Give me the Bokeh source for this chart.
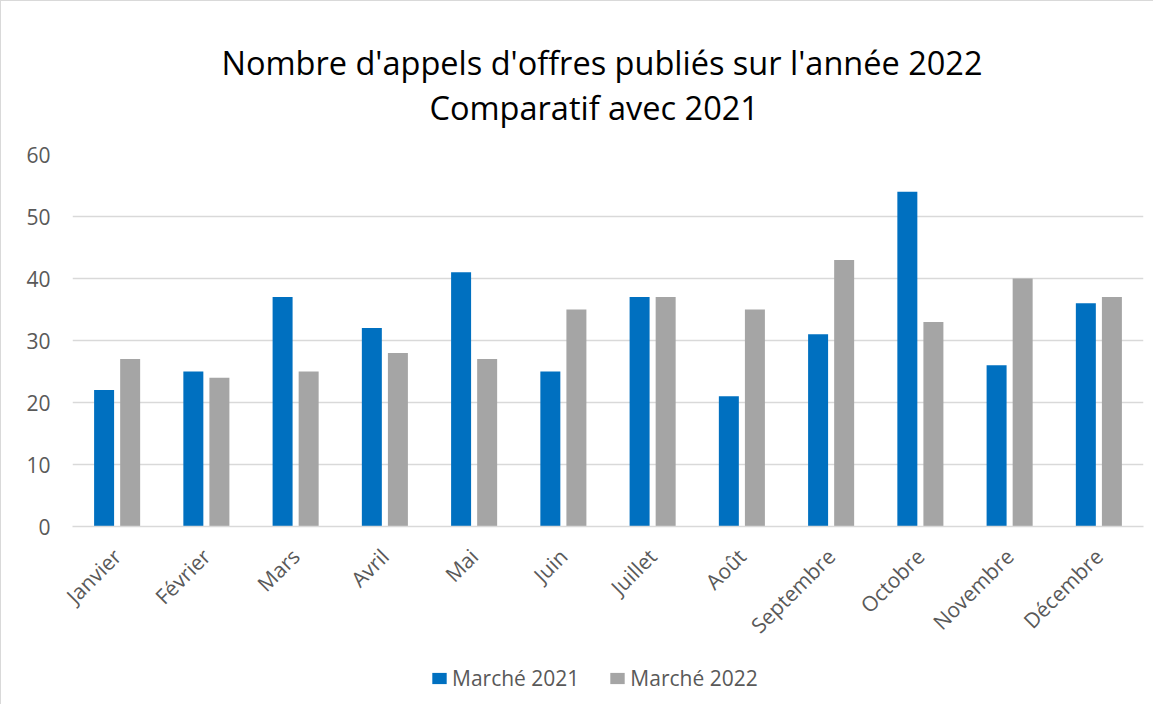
from math import pi
from bokeh.plotting import figure
from bokeh.layouts import column
from bokeh.models import ColumnDataSource, FactorRange, Range1d, Legend, LegendItem, Title
from bokeh.transform import dodge
from bokeh.embed import file_html
from bokeh.resources import INLINE

months = ["Janvier", "Février", "Mars", "Avril", "Mai", "Juin", "Juillet",
          "Août", "Septembre", "Octobre", "Novembre", "Décembre"]
marche_2021 = [22, 25, 37, 32, 41, 25, 37, 21, 31, 54, 26, 36]
marche_2022 = [27, 24, 25, 28, 27, 35, 37, 35, 43, 33, 40, 37]
y_ticks = [0, 10, 20, 30, 40, 50, 60]
series_names = ["Marché 2021", "Marché 2022"]
title_lines = ["Nombre d'appels d'offres publiés sur l'année 2022", "Comparatif avec 2021"]

BLUE = "#0070C0"
GRAY = "#A5A5A5"
FONT = "Open Sans"

src = ColumnDataSource(dict(month=months, m2021=marche_2021, m2022=marche_2022))

p = figure(x_range=FactorRange(factors=months), y_range=Range1d(0, 60),
           width=1152, height=664, output_backend="svg", toolbar_location=None,
           title=None,
           min_border_left=71, min_border_right=10, min_border_top=153,
           min_border_bottom=139)

t2 = Title(text=title_lines[1], align="left", offset=357, text_font=FONT,
           text_font_size="32.5px", text_font_style="normal", text_color="#000000",
           standoff=49)
t1 = Title(text=title_lines[0], align="left", offset=149, text_font=FONT,
           text_font_size="32.5px", text_font_style="normal", text_color="#000000",
           standoff=-52)
p.add_layout(t2, "above")
p.add_layout(t1, "above")

r1 = p.vbar(x=dodge("month", -0.146, range=p.x_range), top="m2021", width=0.224,
            source=src, fill_color=BLUE, line_color=None)
r2 = p.vbar(x=dodge("month", 0.146, range=p.x_range), top="m2022", width=0.224,
            source=src, fill_color=GRAY, line_color=None)

p.outline_line_color = None
p.xgrid.grid_line_color = None
p.ygrid.grid_line_color = "#D9D9D9"
p.ygrid.grid_line_width = 1.3

p.yaxis.ticker = y_ticks
p.yaxis.axis_line_color = None
p.yaxis.major_tick_line_color = None
p.yaxis.minor_tick_line_color = None
p.yaxis.major_label_text_color = "#595959"
p.yaxis.major_label_text_font = FONT
p.yaxis.major_label_text_font_size = "21px"
p.yaxis.major_label_standoff = 16

p.xaxis.axis_line_color = "#D9D9D9"
p.xaxis.axis_line_width = 1.3
p.xaxis.major_tick_line_color = None
p.xaxis.minor_tick_line_color = None
p.xaxis.major_label_orientation = pi / 4
p.xaxis.major_label_text_color = "#595959"
p.xaxis.major_label_text_font = FONT
p.xaxis.major_label_text_font_size = "21px"
p.xaxis.major_label_standoff = 20

# legend strip below the chart (its bars are hidden; only the legend swatches show)
lg = figure(x_range=FactorRange(factors=months), y_range=Range1d(0, 60),
            width=1152, height=39, output_backend="svg", toolbar_location=None,
            x_axis_location=None, y_axis_location=None, min_border=0)
lg.grid.visible = False
lg.outline_line_color = None
g1 = lg.vbar(x=dodge("month", -0.146, range=lg.x_range), top="m2021", width=0.224,
             source=src, fill_color=BLUE, line_color=None, visible=False)
g2 = lg.vbar(x=dodge("month", 0.146, range=lg.x_range), top="m2022", width=0.224,
             source=src, fill_color=GRAY, line_color=None, visible=False)
legend = Legend(items=[LegendItem(label=series_names[0], renderers=[g1]),
                       LegendItem(label=series_names[1], renderers=[g2])],
                orientation="horizontal", location=(358, 12),
                border_line_color=None, background_fill_alpha=0,
                inactive_fill_alpha=0,
                padding=0, margin=0, spacing=29, label_standoff=4,
                glyph_width=18, glyph_height=14,
                label_text_font=FONT, label_text_font_size="21px",
                label_text_color="#595959")
lg.add_layout(legend, "center")

layout = column(p, lg, spacing=0)
layout.styles = {"border-left": "1px solid #D9D9D9", "border-top": "1px solid #D9D9D9"}

open("out.html", "w").write(file_html(layout, INLINE))
